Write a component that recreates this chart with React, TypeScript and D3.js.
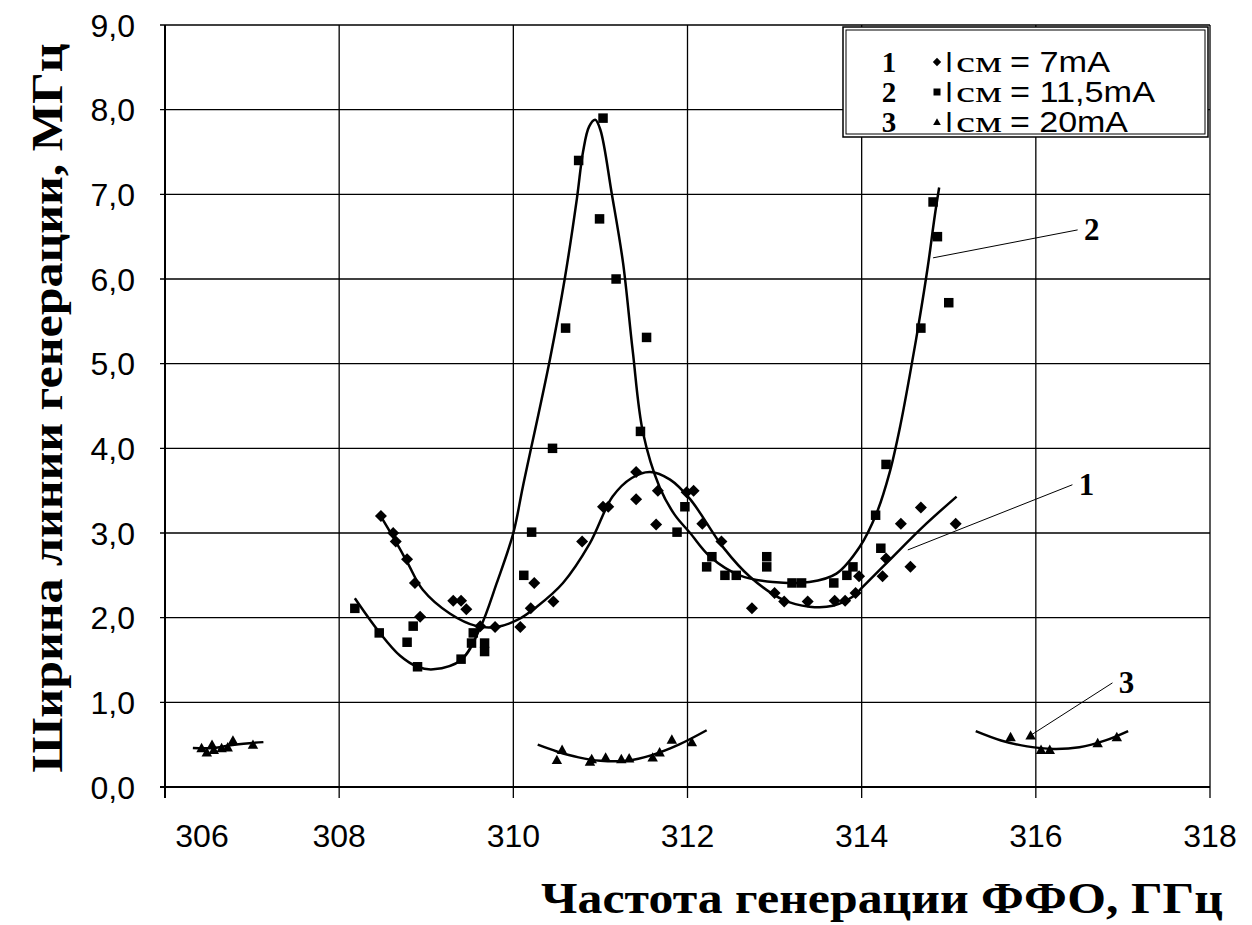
import React from "react";
import * as d3 from "d3";

// ---- data ----
const xTicks = [306, 308, 310, 312, 314, 316, 318];
const yTicks = [0, 1, 2, 3, 4, 5, 6, 7, 8, 9];

// Series 1: Iсм = 7mA (diamonds)
const s1x = [308.48, 308.62, 308.65, 308.78, 308.87, 308.93, 309.31, 309.40, 309.46, 309.62, 309.79, 310.08, 310.20, 310.24, 310.46, 310.79, 311.03, 311.09, 311.41, 311.41, 311.64, 311.66, 311.99, 312.07, 312.17, 312.39, 312.74, 313.00, 313.11, 313.38, 313.69, 313.81, 313.93, 313.97, 314.24, 314.28, 314.45, 314.56, 314.68, 315.08];
const s1y = [3.20, 3.00, 2.90, 2.69, 2.41, 2.01, 2.20, 2.20, 2.10, 1.90, 1.89, 1.89, 2.11, 2.41, 2.19, 2.90, 3.31, 3.31, 3.72, 3.40, 3.10, 3.50, 3.48, 3.50, 3.11, 2.90, 2.11, 2.29, 2.19, 2.19, 2.20, 2.20, 2.29, 2.49, 2.49, 2.70, 3.11, 2.60, 3.30, 3.11];

// Series 2: Iсм = 11,5mA (squares)
const s2x = [308.18, 308.46, 308.78, 308.85, 308.90, 309.40, 309.52, 309.54, 309.67, 309.67, 310.12, 310.21, 310.45, 310.60, 310.75, 310.99, 311.03, 311.18, 311.46, 311.53, 311.88, 311.97, 312.22, 312.28, 312.43, 312.56, 312.91, 312.91, 313.20, 313.31, 313.68, 313.83, 313.90, 314.16, 314.22, 314.28, 314.68, 314.82, 314.87, 315.00];
const s2y = [2.11, 1.82, 1.71, 1.90, 1.42, 1.51, 1.70, 1.82, 1.70, 1.60, 2.50, 3.01, 4.00, 5.42, 7.40, 6.71, 7.90, 6.00, 4.20, 5.31, 3.01, 3.31, 2.60, 2.72, 2.50, 2.50, 2.72, 2.60, 2.41, 2.41, 2.41, 2.50, 2.60, 3.21, 2.82, 3.81, 5.42, 6.91, 6.50, 5.72];

// Series 3: Iсм = 20mA (triangles)
const s3x = [306.42, 306.48, 306.54, 306.56, 306.65, 306.72, 306.78, 307.01, 310.50, 310.56, 310.88, 310.90, 311.06, 311.24, 311.33, 311.60, 311.68, 311.82, 312.05, 315.71, 315.94, 316.06, 316.16, 316.71, 316.93];
const s3y = [0.46, 0.41, 0.50, 0.44, 0.46, 0.47, 0.55, 0.50, 0.32, 0.44, 0.30, 0.33, 0.35, 0.33, 0.34, 0.35, 0.41, 0.56, 0.53, 0.59, 0.61, 0.44, 0.44, 0.52, 0.59];

// Fitted curves
const c1x = [308.47, 308.62, 308.78, 308.96, 309.27, 309.58, 309.81, 310.04, 310.27, 310.57, 310.88, 311.14, 311.36, 311.57, 311.80, 312.03, 312.41, 312.72, 313.10, 313.40, 313.67, 313.90, 314.01, 314.32, 314.70, 315.09];
const c1y = [3.21, 2.95, 2.66, 2.33, 2.05, 1.90, 1.89, 1.97, 2.13, 2.41, 2.88, 3.43, 3.65, 3.72, 3.63, 3.40, 2.83, 2.48, 2.21, 2.13, 2.14, 2.25, 2.36, 2.68, 3.07, 3.43];
const c2x = [308.18, 308.46, 308.70, 308.90, 309.08, 309.40, 309.62, 309.81, 310.00, 310.11, 310.42, 310.59, 310.73, 310.80, 310.87, 310.94, 311.00, 311.13, 311.26, 311.37, 311.49, 311.68, 311.85, 312.03, 312.26, 312.60, 312.98, 313.40, 313.71, 313.98, 314.17, 314.32, 314.44, 314.55, 314.66, 314.76, 314.84, 314.89];
const c2y = [2.23, 1.83, 1.55, 1.42, 1.39, 1.50, 1.88, 2.41, 3.00, 3.55, 5.05, 6.00, 6.95, 7.50, 7.80, 7.88, 7.76, 7.01, 6.19, 5.16, 4.18, 3.54, 3.22, 3.00, 2.72, 2.50, 2.42, 2.42, 2.52, 2.84, 3.23, 3.71, 4.25, 4.85, 5.50, 6.15, 6.75, 7.08];
const c3ax = [306.32, 306.55, 306.80, 307.13];
const c3ay = [0.46, 0.46, 0.50, 0.53];
const c3bx = [310.28, 310.50, 310.75, 311.00, 311.30, 311.60, 311.90, 312.22];
const c3by = [0.50, 0.42, 0.35, 0.31, 0.31, 0.38, 0.50, 0.67];
const c3cx = [315.31, 315.60, 315.90, 316.20, 316.50, 316.80, 317.06];
const c3cy = [0.66, 0.55, 0.48, 0.45, 0.47, 0.55, 0.66];

// Curve number labels with leader lines
const leaderNames = ["1", "2", "3"];
const leaderFromX = [314.53, 314.82, 315.94];
const leaderFromY = [2.80, 6.25, 0.61];
const leaderToX = [316.42, 316.48, 316.88];
const leaderToY = [3.57, 6.58, 1.23];

const legendNums = ["1", "2", "3"];
const legendValues = ["7mA", "11,5mA", "20mA"];
const legendValueWidths = [100, 145, 118];

const yTitle = "Ширина линии генерации, МГц";
const xTitle = "Частота генерации ФФО, ГГц";

const W = 1252;
const H = 925;
const SANS = "'Liberation Sans', Arial, sans-serif";
const SERIF = "'Liberation Serif', 'Times New Roman', serif";

const zip = (xs: number[], ys: number[]) => xs.map((x, i) => [x, ys[i]] as [number, number]);

function Marker({ kind, cx, cy, s }: { kind: number; cx: number; cy: number; s: number }) {
  if (kind === 0) {
    const r = s * 0.6;
    return <path d={`M${cx},${cy - r}L${cx + r},${cy}L${cx},${cy + r}L${cx - r},${cy}Z`} fill="#000" />;
  }
  if (kind === 1) {
    const h = s / 2;
    return <rect x={cx - h} y={cy - h} width={s} height={s} fill="#000" />;
  }
  const h = s * 0.55;
  return <path d={`M${cx},${cy - h}L${cx + h},${cy + h * 0.8}L${cx - h},${cy + h * 0.8}Z`} fill="#000" />;
}

export default function App() {
  const x = d3.scaleLinear().domain([306, 318]).range([165, 1210]);
  const y = d3.scaleLinear().domain([0, 9]).range([787, 25]);
  const line = d3
    .line<[number, number]>()
    .x((d) => x(d[0]))
    .y((d) => y(d[1]))
    .curve(d3.curveCatmullRom.alpha(0.5));
  const fmtY = (v: number) => d3.format(".1f")(v).replace(".", ",");

  const series = [zip(s1x, s1y), zip(s2x, s2y), zip(s3x, s3y)];
  const curves = [zip(c1x, c1y), zip(c2x, c2y), zip(c3ax, c3ay), zip(c3bx, c3by), zip(c3cx, c3cy)];

  const legX = 843;
  const legY = 27;
  const rowBase = [72, 102, 132];

  return (
    <svg
      width={W}
      height={H}
      style={{ position: "absolute", left: 0, top: 0, background: "#fff" }}
      xmlns="http://www.w3.org/2000/svg"
    >
      <rect x={0} y={0} width={W} height={H} fill="#fff" />
      {/* grid */}
      <g stroke="#000" strokeWidth={1.3}>
        {yTicks.map((t) => (
          <line key={"gy" + t} x1={x(306) - 5} x2={x(318)} y1={y(t)} y2={y(t)} />
        ))}
        {xTicks.map((t) => (
          <line key={"gx" + t} x1={x(t)} x2={x(t)} y1={y(9)} y2={y(0) + 11} />
        ))}
      </g>
      {/* axes */}
      <line x1={x(306)} x2={x(306)} y1={y(9)} y2={y(0) + 11} stroke="#000" strokeWidth={2} />
      <line x1={x(306) - 5} x2={x(318)} y1={y(0)} y2={y(0)} stroke="#000" strokeWidth={2} />

      {/* tick labels */}
      <g fontFamily={SANS} fontSize={32} fill="#000">
        {yTicks.map((t) => (
          <text key={"ly" + t} x={135} y={y(t) + 11.5} textAnchor="end">
            {fmtY(t)}
          </text>
        ))}
        {xTicks.map((t, i) => (
          <text key={"lx" + t} x={x(t) + (i === 0 ? 37 : 0)} y={847} textAnchor="middle">
            {t}
          </text>
        ))}
      </g>

      {/* fitted curves */}
      <g fill="none" stroke="#000" strokeWidth={2.5}>
        {curves.map((c, i) => (
          <path key={"c" + i} d={line(c) || ""} />
        ))}
      </g>

      {/* points */}
      {series.map((pts, k) =>
        pts.map((p, i) => <Marker key={`m${k}-${i}`} kind={k} cx={x(p[0])} cy={y(p[1])} s={k === 0 ? 10 : 9.5} />)
      )}

      {/* leader lines and curve numbers */}
      {leaderNames.map((n, i) => (
        <g key={"ld" + n}>
          <line
            x1={x(leaderFromX[i])}
            y1={y(leaderFromY[i])}
            x2={x(leaderToX[i])}
            y2={y(leaderToY[i])}
            stroke="#000"
            strokeWidth={1}
          />
          <text
            x={x(leaderToX[i]) + 14}
            y={y(leaderToY[i]) + 10}
            textAnchor="middle"
            fontFamily={SERIF}
            fontWeight="bold"
            fontSize={31}
          >
            {n}
          </text>
        </g>
      ))}

      {/* legend */}
      <rect x={legX} y={legY} width={365} height={110} fill="#fff" stroke="#000" strokeWidth={1.5} />
      <rect x={legX + 3} y={legY + 3} width={359} height={104} fill="none" stroke="#000" strokeWidth={1} />
      {legendNums.map((n, i) => (
        <g key={"lg" + n}>
          <text x={889} y={rowBase[i]} textAnchor="middle" fontFamily={SERIF} fontWeight="bold" fontSize={29}>
            {n}
          </text>
          <Marker kind={i} cx={937} cy={rowBase[i] - 10} s={7} />
          <text x={945} y={rowBase[i]} fontFamily={SANS} fontSize={29}>
            I
          </text>
          <text x={956} y={rowBase[i]} fontFamily={SERIF} fontSize={29} textLength={46} lengthAdjust="spacingAndGlyphs">
            см
          </text>
          <text
            x={1010}
            y={rowBase[i]}
            fontFamily={SANS}
            fontSize={29}
            textLength={legendValueWidths[i]}
            lengthAdjust="spacingAndGlyphs"
          >
            {"= " + legendValues[i]}
          </text>
        </g>
      ))}

      {/* axis titles */}
      <text
        x={882}
        y={913}
        textAnchor="middle"
        fontFamily={SERIF}
        fontWeight="bold"
        fontSize={45}
        textLength={682}
        lengthAdjust="spacingAndGlyphs"
      >
        {xTitle}
      </text>
      <text
        transform="translate(62,408) rotate(-90)"
        textAnchor="middle"
        fontFamily={SERIF}
        fontWeight="bold"
        fontSize={45}
        textLength={729}
        lengthAdjust="spacingAndGlyphs"
      >
        {yTitle}
      </text>
    </svg>
  );
}
